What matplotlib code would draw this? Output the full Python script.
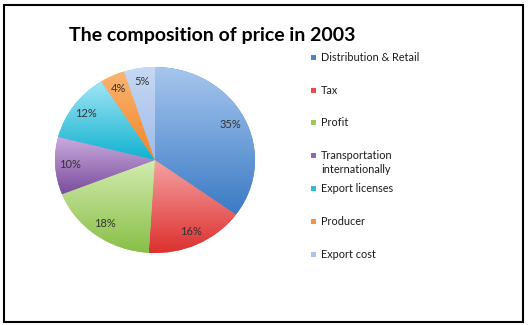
import numpy as np
import matplotlib
matplotlib.use("Agg")
import matplotlib.pyplot as plt
from matplotlib.colors import LinearSegmentedColormap
from matplotlib.patches import Rectangle

categories = ["Distribution & Retail", "Tax", "Profit", "Transportation\ninternationally",
              "Export licenses", "Producer", "Export cost"]
values = [35, 16, 18, 10, 12, 4, 5]
title = "The composition of price in 2003"

mid_colors = ["#4A86C8", "#E84C4C", "#9BCB5A", "#9266B4", "#2CBCD8", "#F7953C", "#A9C4EC"]
light_colors = ["#A6C6EE", "#F5A2A2", "#D3EBB0", "#CBACDF", "#A2E5F5", "#FAB572", "#C6D8F4"]
dark_colors = ["#3A7AC4", "#DC302E", "#88BF46", "#7A4D9C", "#10B2D0", "#F2852A", "#A0BCE8"]

W, H = 528, 325
fig = plt.figure(figsize=(W / 100, H / 100), dpi=100)
fig.patch.set_facecolor("white")

# pie axes: center (155,160) px, rx 100, ry 93
cx, cy, rx, ry = 155, 160, 100, 93
ax = fig.add_axes([(cx - rx) / W, (H - cy - ry) / H, 2 * rx / W, 2 * ry / H])
wedges, texts, autotexts = ax.pie(values, startangle=90, counterclock=False,
                                  colors=mid_colors, autopct="%.0f%%", pctdistance=0.85,
                                  radius=1, center=(0, 0),
                                  wedgeprops=dict(linewidth=0),
                                  textprops=dict(fontsize=8, family="Lato", color="#333333"))
grad = np.linspace(0, 1, 256).reshape(-1, 1)
for w, lc, dc in zip(wedges, light_colors, dark_colors):
    bb = w.get_path().get_extents()
    cmap = LinearSegmentedColormap.from_list("g", [dc, lc])
    im = ax.imshow(grad, cmap=cmap, origin="lower", aspect="auto",
                   extent=[bb.x0, bb.x1, bb.y0, bb.y1], zorder=w.get_zorder() + 0.1,
                   interpolation="bilinear")
    im.set_clip_path(w)
for t in autotexts:
    t.set_zorder(10)
ax.set_xlim(-1, 1)
ax.set_ylim(-1, 1)
ax.set_aspect("auto")
ax.axis("off")

# title
fig.text(212 / W, 1 - 35 / H, title, ha="center", va="center",
         fontsize=14, fontweight="bold", family="Lato", color="black")

# legend
y0, step = 57.3, 32.8
for i, (lab, col) in enumerate(zip(categories, mid_colors)):
    yc = y0 + step * i
    fig.patches.append(Rectangle(((313 - 2.5) / W, 1 - (yc + 2.5) / H), 5 / W, 5 / H,
                                 transform=fig.transFigure, facecolor=col,
                                 edgecolor="none"))
    fig.text(321 / W, 1 - (yc - 5.5) / H, lab, ha="left", va="top", fontsize=7.8,
             family="Lato", color="#1a1a1a", linespacing=1.3)

# border
fig.patches.append(Rectangle((3.5 / W, 3.5 / H), 519.5 / W, 317 / H,
                             transform=fig.transFigure, facecolor="none",
                             edgecolor="black", linewidth=1.5))

fig.savefig("out.png", dpi=100)
